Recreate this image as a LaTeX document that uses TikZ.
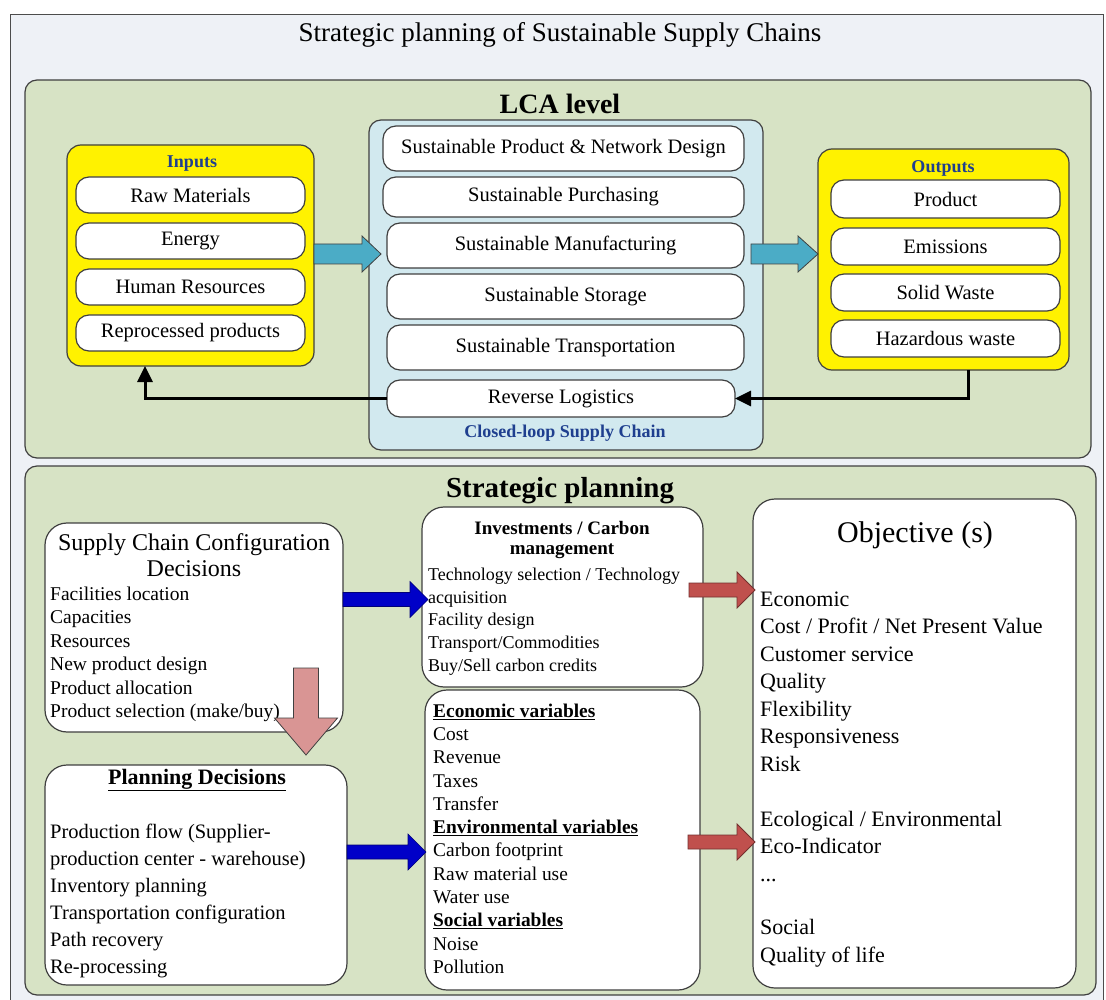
\documentclass[tikz,border=0pt]{standalone}
\usepackage{fontspec}
\setmainfont{Liberation Serif}
\usetikzlibrary{calc,arrows.meta}
\definecolor{framefill}{HTML}{EEF1F6}
\definecolor{panelfill}{HTML}{D7E3C5}
\definecolor{cscfill}{HTML}{D2E9EF}
\definecolor{lblue}{HTML}{1F3F8F}
\definecolor{tealA}{HTML}{4BACC6}
\definecolor{blueA}{HTML}{0000C8}
\definecolor{redA}{HTML}{C0504D}
\definecolor{pinkA}{HTML}{D99594}
\definecolor{edgec}{HTML}{404040}
\newcommand\hblockarrow[6]{%
  \draw[#1] let \p1=(#2), \p2=(#3) in
    (\x1,\y1+#4) -- (\x2-#6,\y1+#4) -- (\x2-#6,\y1+#5) -- (\x2,\y1)
    -- (\x2-#6,\y1-#5) -- (\x2-#6,\y1-#4) -- (\x1,\y1-#4) -- cycle;}
\newcommand\vblockarrow[6]{%
  \draw[#1] let \p1=(#2), \p2=(#3) in
    (\x1+#4,\y1) -- (\x1+#4,\y2+#6) -- (\x1+#5,\y2+#6) -- (\x1,\y2)
    -- (\x1-#5,\y2+#6) -- (\x1-#4,\y2+#6) -- (\x1-#4,\y1) -- cycle;}
\tikzset{
  boxat/.style={anchor=north west, inner sep=0pt, outer sep=0pt},
  framebox/.style={boxat, draw=gray!60!black, line width=1pt, fill=framefill},
  panel/.style={boxat, draw=edgec, line width=1.2pt, rounded corners=12pt, fill=panelfill},
  ybox/.style={boxat, draw=edgec, line width=1.2pt, rounded corners=14pt, fill=yellow},
  cscbox/.style={boxat, draw=edgec, line width=1.2pt, rounded corners=12pt, fill=cscfill},
  item/.style={boxat, draw=edgec, line width=1.2pt, rounded corners=13pt, fill=white, font=\fontsize{20.5}{24}\selectfont},
  wbox/.style={boxat, draw=edgec, line width=1.2pt, rounded corners=22pt, fill=white},
  lbl/.style={font=\bfseries\fontsize{18}{21}\selectfont, text=lblue, inner sep=0pt},
  ln/.style={anchor=mid west, inner sep=0pt},
  fb/.style={draw=black, line width=3pt, -{Triangle[length=16pt,width=15pt]}},
  tealarrow/.style={draw=edgec, line width=0.8pt, fill=tealA},
  bluearrow/.style={draw=blueA!60!black, line width=0.6pt, fill=blueA},
  redarrow/.style={draw=redA!60!black, line width=0.8pt, fill=redA},
  pinkarrow/.style={draw=edgec, line width=0.8pt, fill=pinkA},
}
\begin{document}
\begin{tikzpicture}[x=1pt,y=-1pt]
\useasboundingbox (0,0) rectangle (1106,1000);
\node[framebox, minimum width=1093pt, minimum height=990pt] (frame) at (10,15) {};
\node[font=\fontsize{27}{30}\selectfont] (title) at (560,35) {Strategic planning of Sustainable Supply Chains};

% ---------------- LCA level
\node[panel, minimum width=1066pt, minimum height=378pt] (lca) at (25,80) {};
\node[font=\bfseries\fontsize{28}{30}\selectfont] (lcat) at (560,104) {LCA level};

\node[ybox, minimum width=247pt, minimum height=221pt] (inputs) at (67,145) {};
\node[lbl] (inl) at (192,164) {Inputs};
\node[item, minimum width=229pt, minimum height=36pt] (rm) at (76,177) {Raw Materials};
\node[item, minimum width=229pt, minimum height=36pt] (en) at (76,223) {Energy};
\node[item, minimum width=229pt, minimum height=36pt] (hr) at (76,269) {Human Resources};
\node[item, minimum width=229pt, minimum height=36pt] (rp) at (76,315) {Reprocessed products};

\node[cscbox, minimum width=394pt, minimum height=330pt] (csc) at (369,120) {};
\node[item, minimum width=361pt, minimum height=45pt] (d1) at (383,126) {Sustainable Product \& Network Design};
\node[item, minimum width=361pt, minimum height=40pt] (d2) at (383,177) {Sustainable Purchasing};
\node[item, minimum width=357pt, minimum height=45pt] (d3) at (387,223) {Sustainable Manufacturing};
\node[item, minimum width=357pt, minimum height=45pt] (d4) at (387,274) {Sustainable Storage};
\node[item, minimum width=357pt, minimum height=45pt] (d5) at (387,325) {Sustainable Transportation};
\node[item, minimum width=348pt, minimum height=37pt] (d6) at (387,380) {Reverse Logistics};
\node[lbl] (cscl) at (565,433) {Closed-loop Supply Chain};

\node[ybox, minimum width=251pt, minimum height=221pt] (outputs) at (818,149) {};
\node[lbl] (outl) at (943,168) {Outputs};
\node[item, minimum width=229pt, minimum height=38pt] (pr) at (831,180) {Product};
\node[item, minimum width=229pt, minimum height=37pt] (em) at (831,228) {Emissions};
\node[item, minimum width=229pt, minimum height=37pt] (sw) at (831,274) {Solid Waste};
\node[item, minimum width=229pt, minimum height=37pt] (hw) at (831,320) {Hazardous waste};

\coordinate (ta1) at (314,254);
\coordinate (ta2) at (381,254);
\coordinate (ta3) at (751,254);
\coordinate (ta4) at (818,254);
\hblockarrow{tealarrow}{ta1}{ta2}{10pt}{18pt}{19pt}
\hblockarrow{tealarrow}{ta3}{ta4}{10pt}{18pt}{20pt}

\draw[fb] ([xshift=25pt]outputs.south) |- (d6.east);
\draw[fb] (d6.west) -| ([xshift=-45.5pt]inputs.south);

% ---------------- Strategic planning
\node[panel, minimum width=1071pt, minimum height=529pt] (sp) at (25,466) {};
\node[font=\bfseries\fontsize{29}{31}\selectfont] (spt) at (560,491) {Strategic planning};

\node[wbox, minimum width=298pt, minimum height=209pt] (cfg) at (45,523) {};
\node[font=\fontsize{24}{26}\selectfont, inner sep=0pt] (cfgt1) at (194,545) {Supply Chain Configuration};
\node[font=\fontsize{24}{26}\selectfont, inner sep=0pt] (cfgt2) at (194,569) {Decisions};
\foreach \t [count=\i] in {Facilities location, Capacities, Resources, New product design, Product allocation, Product selection (make/buy)}
  \node[ln, font=\fontsize{19.5}{22}\selectfont, name=cfg\i] at (50,{598+(\i-1)*23.5}) {\t};

\node[wbox, minimum width=302pt, minimum height=220pt] (plan) at (45,765) {};
\node[font=\bfseries\fontsize{22}{24}\selectfont, inner sep=0pt] (plant) at (197,780) {\underline{Planning Decisions}};
\foreach \t [count=\i] in {Production flow (Supplier-, production center - warehouse), Inventory planning, Transportation configuration, Path recovery, Re-processing}
  \node[ln, font=\fontsize{20.5}{22}\selectfont, name=plan\i] at (50,{836+(\i-1)*27}) {\t};

\coordinate (pk1) at (306,668);
\coordinate (pk2) at (306,755);
\vblockarrow{pinkarrow}{pk1}{pk2}{12.5pt}{31.5pt}{37pt}

\node[wbox, minimum width=281pt, minimum height=180pt] (inv) at (422,507) {};
\node[font=\bfseries\fontsize{19}{21}\selectfont, inner sep=0pt] (invt1) at (562,528) {Investments / Carbon};
\node[font=\bfseries\fontsize{19}{21}\selectfont, inner sep=0pt] (invt2) at (562,551) {management};
\foreach \t [count=\i] in {Technology selection / Technology, acquisition, Facility design, Transport/Commodities, Buy/Sell carbon credits}
  \node[ln, font=\fontsize{18}{20}\selectfont, name=inv\i] at (428,{578+(\i-1)*22.8}) {\t};

\node[wbox, minimum width=275pt, minimum height=300pt] (var) at (425,690) {};
\foreach \t [count=\i] in {\underline{\textbf{Economic variables}}, Cost, Revenue, Taxes, Transfer, \underline{\textbf{Environmental variables}}, Carbon footprint, Raw material use, Water use, \underline{\textbf{Social variables}}, Noise, Pollution}
  \node[ln, font=\fontsize{19.4}{22}\selectfont, name=var\i] at (433,{715+(\i-1)*23.27}) {\t};

\node[wbox, minimum width=323pt, minimum height=489pt] (obj) at (753,499) {};
\node[font=\fontsize{30}{32}\selectfont, inner sep=0pt] (objt) at (915,535) {Objective (s)};
\foreach \t [count=\i] in {Economic, Cost / Profit / Net Present Value, Customer service, Quality, Flexibility, Responsiveness, Risk}
  \node[ln, font=\fontsize{22}{24}\selectfont, name=obja\i] at (760,{604+(\i-1)*27.5}) {\t};
\node[ln, font=\fontsize{22}{24}\selectfont] (objb1) at (760,824) {Ecological / Environmental};
\node[ln, font=\fontsize{22}{24}\selectfont] (objb2) at (760,851.5) {Eco-Indicator};
\node[ln, font=\fontsize{22}{24}\selectfont] (objb3) at (760,879) {{.}{.}{.}};
\node[ln, font=\fontsize{22}{24}\selectfont] (objc1) at (760,932) {Social};
\node[ln, font=\fontsize{22}{24}\selectfont] (objc2) at (760,960.5) {Quality of life};

\coordinate (ba1) at (343,599.5);
\coordinate (ba2) at (428,599.5);
\coordinate (ba3) at (347,852);
\coordinate (ba4) at (426,852);
\hblockarrow{bluearrow}{ba1}{ba2}{7pt}{18pt}{18pt}
\hblockarrow{bluearrow}{ba3}{ba4}{7pt}{18pt}{18pt}

\coordinate (ra1) at (689,590);
\coordinate (ra2) at (755,590);
\coordinate (ra3) at (688,842);
\coordinate (ra4) at (755,842);
\hblockarrow{redarrow}{ra1}{ra2}{7pt}{18pt}{18pt}
\hblockarrow{redarrow}{ra3}{ra4}{7pt}{18pt}{18pt}
\end{tikzpicture}
\end{document}
